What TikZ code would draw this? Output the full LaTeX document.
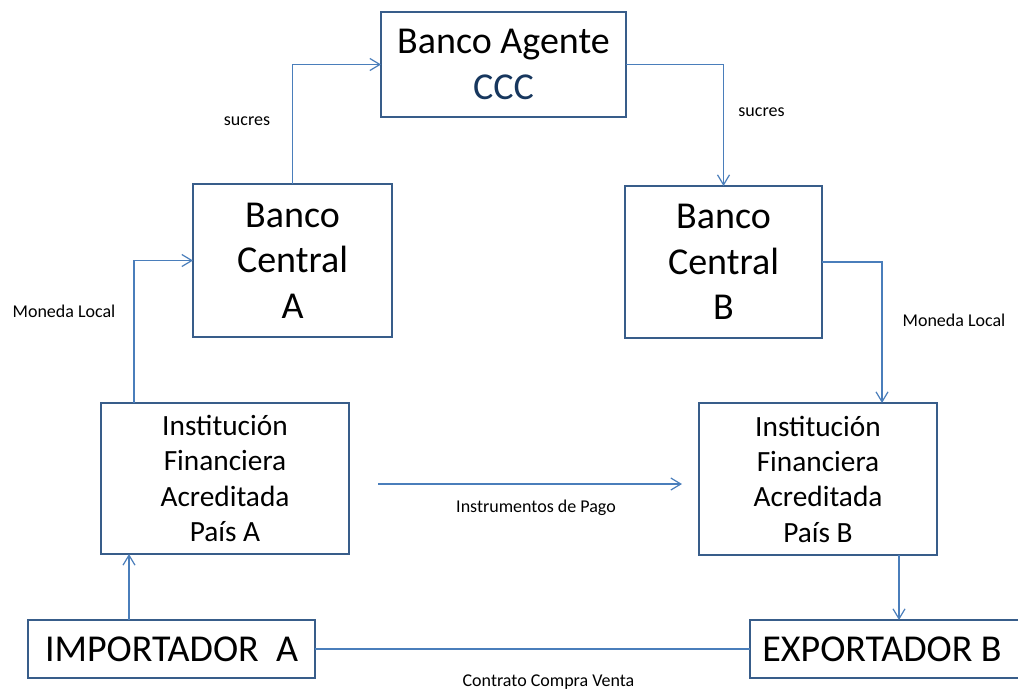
\documentclass[tikz,border=0pt]{standalone}
\usepackage{fontspec}
\setmainfont{Carlito}
\usetikzlibrary{arrows.meta}
\definecolor{boxline}{HTML}{385D8A}
\definecolor{conline}{HTML}{4A7EBB}
\definecolor{navy}{HTML}{17375E}
\tikzset{
  box/.style={draw=boxline, line width=1pt, rectangle, inner sep=0pt, outer sep=0pt},
  bigtxt/.style={font=\fontsize{28.5pt}{34pt}\selectfont},
  midtxt/.style={font=\fontsize{22pt}{26.5pt}\selectfont},
  lbl/.style={font=\fontsize{13.5pt}{16pt}\selectfont, inner sep=0pt},
  con/.style={draw=conline, line width=0.9pt},
  arr/.style={con, -{Straight Barb[length=7.5pt,width=9pt,line width=0.9pt]}}
}
\begin{document}
\begin{tikzpicture}[x=0.75pt, y=-0.75pt]
\clip (0,0) rectangle (1018,689);
\fill[white] (0,0) rectangle (1018,689);
% boxes
\node[box, align=center, bigtxt, minimum width=183.75pt, minimum height=78.75pt] (agente) at (503.5,64.5) {Banco Agente\\\textcolor{navy}{CCC}};
\node[box, align=center, bigtxt, minimum width=149.25pt, minimum height=114.75pt] (bca) at (292.5,260.5) {Banco\\Central\\A};
\node[box, align=center, bigtxt, minimum width=147.75pt, minimum height=114pt] (bcb) at (723.5,262) {Banco\\Central\\B};
\node[box, align=center, midtxt, minimum width=186pt, minimum height=113.25pt] (ifa) at (225,478.5) {Institución\\Financiera\\Acreditada\\País A};
\node[box, align=center, midtxt, minimum width=178.5pt, minimum height=114pt] (ifb) at (818,479) {Institución\\Financiera\\Acreditada\\País B};
\node[box, bigtxt, minimum width=215.25pt, minimum height=43.5pt] (imp) at (171.5,649) {IMPORTADOR\ \ A};
\node[box, bigtxt, minimum width=207pt, minimum height=43.5pt] (exp) at (888,649) {\hspace*{-9pt}EXPORTADOR B};
% connectors
\draw[arr] (bca.north) |- (agente.west);
\draw[arr] (agente.east) -| (bcb.north);
\draw[arr] (bcb.east) -| ([xshift=48pt]ifb.north);
\draw[arr] ([xshift=24.75pt]ifa.north west) |- (bca.west);
\draw[arr] ([xshift=75.75pt]imp.north west) -- ([xshift=75.75pt]imp.north west |- ifa.south);
\draw[arr] ([xshift=150pt]ifb.south west) -- ([xshift=150pt]ifb.south west |- exp.north);
\draw[con] (imp.east) -- (exp.west);
\coordinate (ip1) at (378,484);
\coordinate (ip2) at (682,484);
\draw[arr] (ip1) -- (ip2);
% labels
\node[lbl] (l1) at (247,121) {sucres};
\node[lbl] (l2) at (761.5,112) {sucres};
\node[lbl] (l3) at (64,311) {Moneda Local};
\node[lbl] (l4) at (954,320) {Moneda Local};
\node[lbl] (l5) at (536,508) {Instrumentos de Pago};
\node[lbl] (l6) at (548.5,682) {Contrato Compra Venta};
\end{tikzpicture}
\end{document}
